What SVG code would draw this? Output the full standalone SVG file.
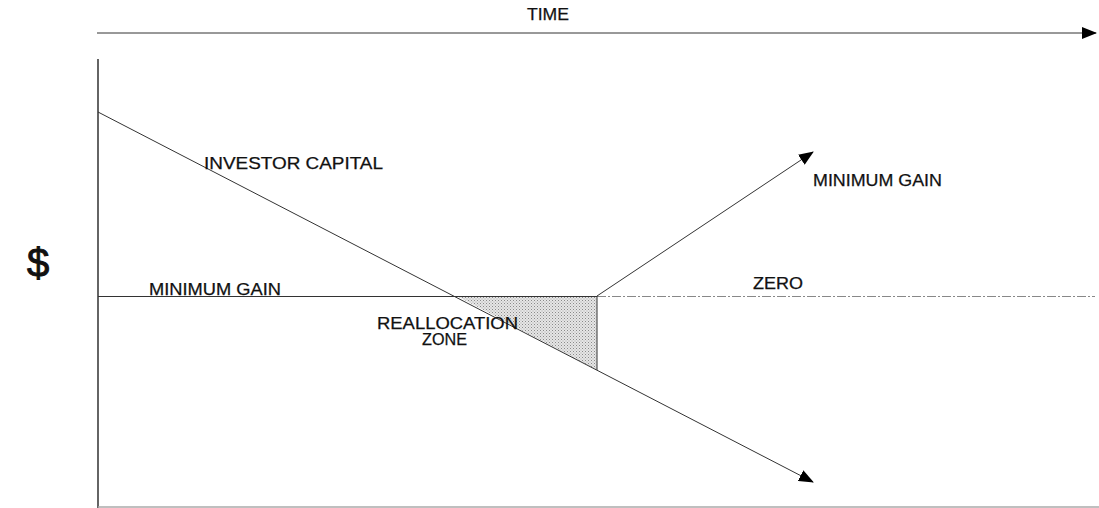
<svg xmlns="http://www.w3.org/2000/svg" width="1099" height="508" viewBox="0 0 1099 508">
  <style>
    .ln { stroke: #333; stroke-width: 1; fill: none; }
    .ax { stroke: #111; stroke-width: 1.3; fill: none; }
    .lbl { font-family: "Liberation Sans", Arial, sans-serif; font-size: 16.5px; fill: #111; stroke: #111; stroke-width: 0.25; }
  </style>
  <defs>
    <marker id="arr" viewBox="0 0 15 12" refX="14" refY="6" markerWidth="15" markerHeight="12" markerUnits="userSpaceOnUse" orient="auto">
      <path d="M0,0 L15,6 L0,12 Z" fill="#000"/>
    </marker>
    <pattern id="dots" width="3" height="3" patternUnits="userSpaceOnUse">
      <rect width="3" height="3" fill="#e6e6e6"/>
      <rect x="0" y="0" width="1" height="1" fill="#8a8a8a"/>
      <rect x="1.5" y="1.5" width="1" height="1" fill="#a8a8a8"/>
    </pattern>
  </defs>
  <rect width="1099" height="508" fill="#fff"/>

  <g id="zone">
    <polygon points="457,296 597,296 597,370" fill="url(#dots)"/>
  </g>

  <g id="connectors">
    <line id="time-axis" class="ln" x1="97" y1="33" x2="1096" y2="33" marker-end="url(#arr)"/>
    <line id="y-axis" class="ax" x1="98" y1="59" x2="98" y2="508"/>
    <line id="x-base" x1="98" y1="507" x2="1099" y2="507" stroke="#aaa" stroke-width="1.5"/>
    <line id="investor-capital" class="ln" x1="98" y1="112" x2="813" y2="482" marker-end="url(#arr)"/>
    <line id="minimum-gain-line" class="ln" x1="98" y1="296.5" x2="597" y2="296.5" stroke="#666"/>
    <line id="zero-line" x1="597" y1="296.5" x2="1095" y2="296.5" stroke="#888" stroke-width="1" stroke-dasharray="9 2 2 2"/>
    <line id="zone-edge" class="ln" x1="597" y1="296" x2="597" y2="370"/>
    <line id="minimum-gain-rise" class="ln" x1="597" y1="296" x2="813" y2="152" marker-end="url(#arr)"/>
  </g>

  <g id="labels">
    <text id="t-time" class="lbl" x="527" y="19.5" textLength="42" lengthAdjust="spacingAndGlyphs">TIME</text>
    <text id="t-dollar" x="27" y="277" font-family="Liberation Sans, Arial, sans-serif" font-size="40" fill="#111" stroke="#111" stroke-width="1">$</text>
    <text id="t-investor" class="lbl" x="204" y="168.5" textLength="179" lengthAdjust="spacingAndGlyphs">INVESTOR CAPITAL</text>
    <text id="t-mingain-right" class="lbl" x="813" y="185.5" textLength="129" lengthAdjust="spacingAndGlyphs">MINIMUM GAIN</text>
    <text id="t-mingain-left" class="lbl" x="149" y="294.5" textLength="132" lengthAdjust="spacingAndGlyphs">MINIMUM GAIN</text>
    <text id="t-zero" class="lbl" x="753" y="288.5" textLength="50" lengthAdjust="spacingAndGlyphs">ZERO</text>
    <text id="t-realloc" class="lbl" x="377" y="328.5" textLength="141" lengthAdjust="spacingAndGlyphs">REALLOCATION</text>
    <text id="t-zone" class="lbl" x="422" y="344.5" textLength="45" lengthAdjust="spacingAndGlyphs">ZONE</text>
  </g>
</svg>
